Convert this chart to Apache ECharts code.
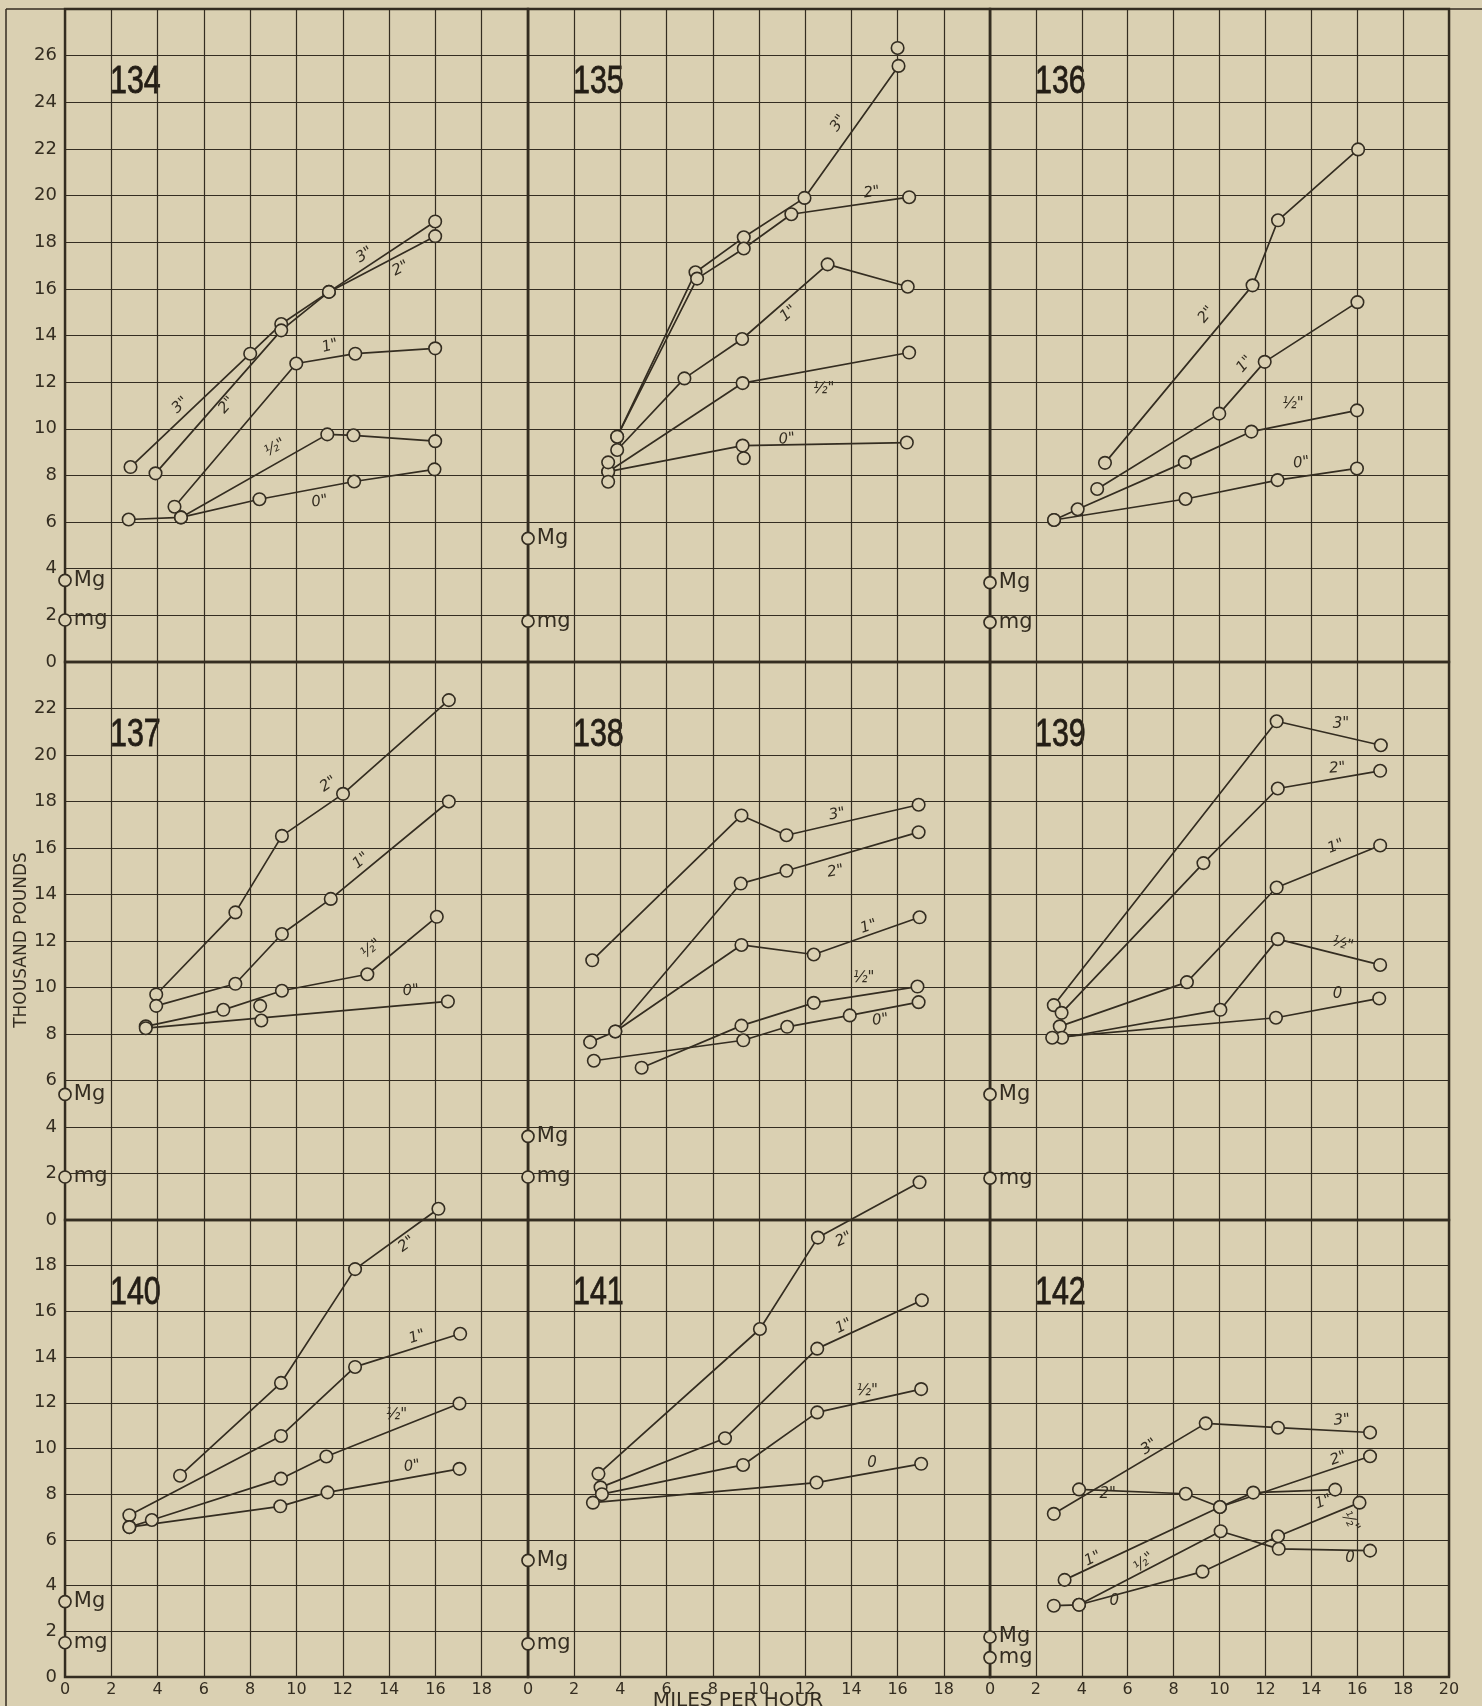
<!DOCTYPE html>
<html><head><meta charset="utf-8">
<script src="https://cdn.jsdelivr.net/npm/echarts@6/dist/echarts.min.js"></script>
<style>html,body{margin:0;padding:0;background:#dad0b2;}#c{width:1482px;height:1706px;}</style>
</head><body><div id="c"></div>
<script>
// ---------------- DATA ----------------
const PANEL_IDS = ['134','135','136','137','138','139','140','141','142'];
const ROW_MAX = [28, 24, 20];
const X_TICKS = [0,2,4,6,8,10,12,14,16,18,20];

// Panel 134
const p134_in3 = [[2.83,8.36],[8.0,13.22],[9.34,14.49],[11.4,15.87],[15.99,18.89]];
const p134_in2 = [[3.91,8.09],[9.34,14.22],[11.4,15.87],[15.99,18.26]];
const p134_in1 = [[4.73,6.66],[9.99,12.8],[12.54,13.22],[15.99,13.45]];
const p134_inH = [[5.01,6.2],[11.33,9.76],[12.46,9.72],[15.99,9.47]];
const p134_in0 = [[2.75,6.11],[5.01,6.2],[8.4,6.98],[12.49,7.74],[15.96,8.26]];
const p134_extra = [];
const p134_mg = [3.5, 1.8];
const p134_lab = [[12.94,17.45,'3"',33],[14.5,16.87,'2"',27],[4.98,11.01,'3"',43],[6.99,11.01,'2"',48],[11.45,13.55,'1"',15],[9.07,9.19,'½"',30],[11.0,6.88,'0"',10]];

// Panel 135
const p135_in3 = [[3.86,9.66],[7.25,16.71],[9.34,18.21],[11.97,19.9],[16.04,25.56]];
const p135_in2 = [[3.86,9.66],[7.32,16.44],[9.34,17.73],[11.4,19.2],[16.5,19.93]];
const p135_in1 = [[3.86,9.09],[6.77,12.16],[9.27,13.85],[12.97,17.05],[16.44,16.09]];
const p135_inH = [[3.47,8.16],[9.29,11.96],[16.5,13.27]];
const p135_in0 = [[3.47,8.16],[9.29,9.28],[16.4,9.41]];
const p135_extra = [[16.0,26.33],[9.34,8.74],[3.47,8.56],[3.47,7.73]];
const p135_mg = [5.3, 1.75];
const p135_lab = [[13.44,23.1,'3"',55],[14.88,20.13,'2"',8],[11.28,14.94,'1"',40],[12.8,11.68,'½"',0],[11.21,9.56,'0"',5]];

// Panel 136
const p136_in3 = [];
const p136_in2 = [[5.01,8.54],[11.44,16.15],[12.55,18.94],[16.04,21.98]];
const p136_in1 = [[4.67,7.42],[9.99,10.65],[11.97,12.87],[16.01,15.43]];
const p136_inH = [[2.79,6.09],[3.82,6.55],[8.49,8.57],[11.39,9.88],[15.99,10.79]];
const p136_in0 = [[2.79,6.09],[8.52,6.99],[12.53,7.8],[15.99,8.3]];
const p136_extra = [];
const p136_mg = [3.4, 1.7];
const p136_lab = [[9.43,14.89,'2"',50],[11.1,12.77,'1"',48],[13.2,11.04,'½"',0],[13.57,8.54,'0"',8]];

// Panel 137
const p137_in3 = [];
const p137_in2 = [[3.94,9.7],[7.36,13.23],[9.37,16.52],[12.01,18.33],[16.58,22.36]];
const p137_in1 = [[3.94,9.21],[7.36,10.16],[9.37,12.3],[11.48,13.81],[16.58,18.0]];
const p137_inH = [[3.49,8.33],[6.84,9.04],[9.37,9.86],[13.06,10.57],[16.06,13.04]];
const p137_in0 = [[3.49,8.25],[16.54,9.4]];
const p137_extra = [[8.43,9.21],[8.48,8.58]];
const p137_mg = [5.4, 1.85];
const p137_lab = [[11.38,18.74,'2"',34],[12.79,15.45,'1"',39],[13.23,11.67,'½"',40],[14.94,9.86,'0"',5]];

// Panel 138
const p138_in3 = [[2.78,11.17],[9.24,17.4],[11.19,16.55],[16.91,17.86]];
const p138_in2 = [[2.69,7.65],[3.78,8.11],[9.21,14.47],[11.19,15.02],[16.91,16.68]];
const p138_in1 = [[3.78,8.11],[9.24,11.83],[12.37,11.42],[16.95,13.02]];
const p138_inH = [[4.92,6.55],[9.24,8.36],[12.37,9.34],[16.86,10.04]];
const p138_in0 = [[2.85,6.85],[9.32,7.73],[11.22,8.31],[13.93,8.8],[16.91,9.37]];
const p138_extra = [];
const p138_mg = [3.6, 1.85];
const p138_lab = [[13.38,17.45,'3"',10],[13.31,14.99,'2"',10],[14.75,12.61,'1"',18],[14.53,10.4,'½"',0],[15.25,8.6,'0"',8]];

// Panel 139
const p139_in3 = [[2.78,9.24],[12.49,21.45],[17.03,20.42]];
const p139_in2 = [[3.12,8.91],[9.3,15.35],[12.54,18.56],[17.0,19.32]];
const p139_in1 = [[3.04,8.33],[8.58,10.23],[12.49,14.3],[17.0,16.11]];
const p139_inH = [[3.14,7.84],[10.04,9.04],[12.54,12.08],[17.0,10.97]];
const p139_in0 = [[2.71,7.84],[12.46,8.7],[16.96,9.53]];
const p139_extra = [];
const p139_mg = [5.4, 1.8];
const p139_lab = [[15.29,21.32,'3"',0],[15.14,19.43,'2"',5],[15.07,16.06,'1"',20],[15.36,11.87,'½"',-15],[15.14,9.73,'0',0]];

// Panel 140
const p140_in3 = [];
const p140_in2 = [[4.97,8.81],[9.33,12.87],[12.53,17.85],[16.13,20.49]];
const p140_in1 = [[2.78,7.08],[9.33,10.55],[12.53,13.57],[17.07,15.02]];
const p140_inH = [[2.78,6.56],[3.75,6.87],[9.33,8.68],[11.29,9.65],[17.04,11.97]];
const p140_in0 = [[2.78,6.56],[9.3,7.47],[11.34,8.08],[17.04,9.11]];
const p140_extra = [];
const p140_mg = [3.3, 1.5];
const p140_lab = [[14.76,18.94,'2"',36],[15.21,14.88,'1"',18],[14.32,11.47,'½"',0],[14.99,9.22,'0"',8]];

// Panel 141
const p141_in3 = [];
const p141_in2 = [[3.05,8.89],[10.04,15.23],[12.55,19.23],[16.95,21.65]];
const p141_in1 = [[3.14,8.3],[8.53,10.45],[12.52,14.37],[17.05,16.49]];
const p141_inH = [[3.2,8.0],[9.31,9.28],[12.52,11.58],[17.02,12.6]];
const p141_in0 = [[2.81,7.63],[12.49,8.51],[17.02,9.33]];
const p141_extra = [];
const p141_mg = [5.1, 1.45];
const p141_lab = [[13.67,19.15,'2"',25],[13.67,15.35,'1"',25],[14.68,12.5,'½"',0],[14.89,9.36,'0',0]];

// Panel 142
const p142_in3 = [[2.78,7.14],[9.4,11.1],[12.55,10.91],[16.56,10.7]];
const p142_in2 = [[3.88,8.21],[8.53,8.02],[10.02,7.44],[16.56,9.66]];
const p142_in1 = [[3.25,4.25],[10.02,7.44],[11.47,8.07],[15.04,8.2]];
const p142_inH = [[3.88,3.16],[10.05,6.38],[12.58,5.61],[16.56,5.53]];
const p142_in0 = [[2.78,3.12],[3.88,3.16],[9.26,4.61],[12.55,6.16],[16.1,7.63]];
const p142_extra = [];
const p142_mg = [1.75, 0.85];
const p142_lab = [[6.94,10.07,'3"',35],[15.33,11.24,'3"',5],[15.18,9.56,'2"',20],[5.13,8.02,'2"',0],[14.53,7.66,'1"',20],[4.48,5.17,'1"',25],[6.72,5.02,'½"',40],[15.69,6.78,'½"',-60],[5.42,3.34,'0',0],[15.69,5.21,'0',0]];

const PANEL_DATA = [
  [p134_in3,p134_in2,p134_in1,p134_inH,p134_in0,p134_extra,p134_mg,p134_lab],
  [p135_in3,p135_in2,p135_in1,p135_inH,p135_in0,p135_extra,p135_mg,p135_lab],
  [p136_in3,p136_in2,p136_in1,p136_inH,p136_in0,p136_extra,p136_mg,p136_lab],
  [p137_in3,p137_in2,p137_in1,p137_inH,p137_in0,p137_extra,p137_mg,p137_lab],
  [p138_in3,p138_in2,p138_in1,p138_inH,p138_in0,p138_extra,p138_mg,p138_lab],
  [p139_in3,p139_in2,p139_in1,p139_inH,p139_in0,p139_extra,p139_mg,p139_lab],
  [p140_in3,p140_in2,p140_in1,p140_inH,p140_in0,p140_extra,p140_mg,p140_lab],
  [p141_in3,p141_in2,p141_in1,p141_inH,p141_in0,p141_extra,p141_mg,p141_lab],
  [p142_in3,p142_in2,p142_in1,p142_inH,p142_in0,p142_extra,p142_mg,p142_lab]
];
const SERIES_NAMES = ['3"','2"','1"','½"','0"'];

// ---------------- LAYOUT / STYLE ----------------
const BG = '#dad0b2';
const INK = '#342d21';
const FONT = "'DejaVu Sans', 'Liberation Sans', sans-serif";
const COL_LEFT = [65, 528, 990];
const COL_W = [463, 462, 459];
const ROW_TOP = [9, 662, 1220];
const ROW_H = [653, 558, 457];

const chart = echarts.init(document.getElementById('c'), null, {renderer:'canvas'});
const grids = [], xAxes = [], yAxes = [], series = [], graphics = [];

PANEL_IDS.forEach((id, i) => {
  const row = Math.floor(i / 3), col = i % 3;
  const ymax = ROW_MAX[row];
  grids.push({
    left: COL_LEFT[col], top: ROW_TOP[row], width: COL_W[col], height: ROW_H[row],
    show: true, borderColor: INK, borderWidth: 2.4, backgroundColor: 'transparent',
    containLabel: false, outerBoundsMode: 'none'
  });
  xAxes.push({
    gridIndex: i, type: 'value', min: 0, max: 20, interval: 2,
    axisLine: {show: false}, axisTick: {show: false},
    splitLine: {show: true, lineStyle: {color: INK, width: 1.2}},
    axisLabel: {
      show: row === 2, margin: 5, fontSize: 16, color: INK, fontFamily: FONT,
      formatter: v => (v === 20 && col < 2) ? '' : (X_TICKS.indexOf(v) >= 0 ? String(v) : '')
    }
  });
  yAxes.push({
    gridIndex: i, type: 'value', min: 0, max: ymax, interval: 2,
    axisLine: {show: false}, axisTick: {show: false},
    splitLine: {show: true, lineStyle: {color: INK, width: 1.2}},
    axisLabel: {
      show: col === 0, margin: 8, fontSize: 18, color: INK, fontFamily: FONT,
      formatter: v => v === ymax ? '' : String(v)
    }
  });
  const d = PANEL_DATA[i];
  for (let s = 0; s < 5; s++) {
    if (!d[s].length) continue;
    series.push({
      type: 'line', name: id + ' ' + SERIES_NAMES[s], xAxisIndex: i, yAxisIndex: i,
      data: d[s], symbol: 'circle', symbolSize: 12.5, showAllSymbol: true, clip: false,
      lineStyle: {color: INK, width: 1.7},
      itemStyle: {color: BG, borderColor: INK, borderWidth: 1.6, opacity: 1},
      z: 4, animation: false, silent: true
    });
  }
  if (d[5].length) {
    series.push({
      type: 'scatter', xAxisIndex: i, yAxisIndex: i, data: d[5], symbol: 'circle',
      symbolSize: 12.5, clip: false,
      itemStyle: {color: BG, borderColor: INK, borderWidth: 1.6, opacity: 1},
      z: 5, animation: false, silent: true
    });
  }
  series.push({
    type: 'scatter', xAxisIndex: i, yAxisIndex: i, symbol: 'circle', symbolSize: 12, clip: false,
    data: [
      {value: [0, d[6][0]], label: {formatter: 'Mg'}},
      {value: [0, d[6][1]], label: {formatter: 'mg'}}
    ],
    itemStyle: {color: BG, borderColor: INK, borderWidth: 1.7, opacity: 1},
    label: {show: true, position: 'right', distance: 2, fontSize: 21, color: INK, fontFamily: FONT},
    z: 6, animation: false, silent: true
  });
  series.push({
    type: 'scatter', xAxisIndex: i, yAxisIndex: i, symbolSize: 0, clip: false,
    data: d[7].map(l => ({value: [l[0], l[1]], label: {formatter: l[2], rotate: l[3]}})),
    itemStyle: {opacity: 1},
    label: {show: true, position: 'inside', fontSize: 15, fontStyle: 'italic', color: INK, fontFamily: FONT},
    z: 6, animation: false, silent: true
  });
  graphics.push({
    type: 'text', x: COL_LEFT[col] + 45, y: ROW_TOP[row] + 55, scaleX: 0.8,
    style: {text: id, fontSize: 38, fontWeight: 500, fontFamily: "'Liberation Sans', sans-serif", fill: '#231d15', stroke: '#231d15', lineWidth: 0.8}
  });
});

graphics.push({type: 'line', shape: {x1: 6, y1: 9, x2: 6, y2: 1706}, style: {stroke: INK, lineWidth: 1.5}});
graphics.push({type: 'line', shape: {x1: 6, y1: 9, x2: 1482, y2: 9}, style: {stroke: INK, lineWidth: 1.5}});
graphics.push({
  type: 'text', x: 22, y: 940, rotation: Math.PI / 2,
  style: {text: 'THOUSAND POUNDS', fontSize: 17, fontFamily: FONT, fill: INK, textAlign: 'center', textVerticalAlign: 'middle'}
});
graphics.push({
  type: 'text', x: 738, y: 1701,
  style: {text: 'MILES PER HOUR', fontSize: 20, fontFamily: FONT, fill: INK, textAlign: 'center', textVerticalAlign: 'middle'}
});

chart.setOption({
  backgroundColor: BG,
  animation: false,
  grid: grids, xAxis: xAxes, yAxis: yAxes, series: series, graphic: graphics
});
</script></body></html>
